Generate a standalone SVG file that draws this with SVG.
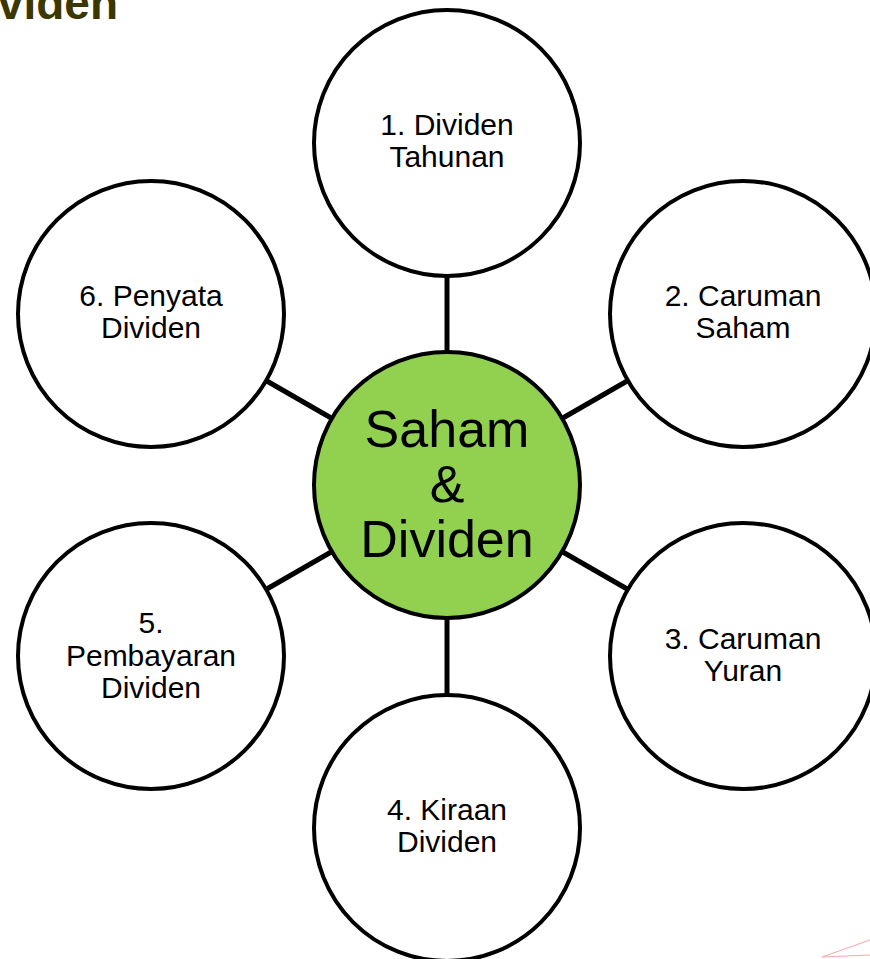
<svg xmlns="http://www.w3.org/2000/svg" width="870" height="959" viewBox="0 0 870 959">
<style>
.c{fill:#ffffff;stroke:#000000;stroke-width:4}
.m{fill:#92d050;stroke:#000000;stroke-width:4}
.t{font-family:"Liberation Sans",Arial,sans-serif;font-size:30px;fill:#000000;text-anchor:middle}
.tm{font-family:"Liberation Sans",Arial,sans-serif;font-size:52px;fill:#000000;text-anchor:middle}
.ln{stroke:#000000;stroke-width:5}
</style>
<rect width="870" height="959" fill="#ffffff"/>
<text x="118" y="19" text-anchor="end" font-family="Liberation Sans, Arial, sans-serif" font-weight="bold" font-size="46" fill="#3a3800">viden</text>
<g id="connectors">
<line class="ln" x1="447" y1="277" x2="447" y2="352"/>
<line class="ln" x1="447" y1="618" x2="447" y2="695"/>
<line class="ln" x1="562" y1="418.5" x2="628" y2="380.5"/>
<line class="ln" x1="562" y1="551.5" x2="628" y2="589.5"/>
<line class="ln" x1="332" y1="418.5" x2="266" y2="380.5"/>
<line class="ln" x1="332" y1="551.5" x2="266" y2="589.5"/>
</g>
<g id="node1"><circle class="c" cx="447" cy="143" r="133"/><text class="t" x="447" y="135">1. Dividen</text><text class="t" x="447" y="167">Tahunan</text></g>
<g id="node2"><circle class="c" cx="743" cy="314" r="133"/><text class="t" x="743" y="306">2. Caruman</text><text class="t" x="743" y="338">Saham</text></g>
<g id="node3"><circle class="c" cx="743" cy="656" r="133"/><text class="t" x="743" y="649">3. Caruman</text><text class="t" x="743" y="681">Yuran</text></g>
<g id="node4"><circle class="c" cx="447" cy="828" r="133"/><text class="t" x="447" y="820">4. Kiraan</text><text class="t" x="447" y="852">Dividen</text></g>
<g id="node5"><circle class="c" cx="151" cy="656" r="133"/><text class="t" x="151" y="633">5.</text><text class="t" x="151" y="666">Pembayaran</text><text class="t" x="151" y="698">Dividen</text></g>
<g id="node6"><circle class="c" cx="151" cy="314" r="133"/><text class="t" x="151" y="306">6. Penyata</text><text class="t" x="151" y="338">Dividen</text></g>
<g id="center"><circle class="m" cx="447" cy="485" r="133"/><text class="tm" x="447" y="447">Saham</text><text class="tm" x="447" y="502">&amp;</text><text class="tm" x="447" y="557">Dividen</text></g>
<line x1="822" y1="957" x2="870" y2="940" stroke="#f2a8a8" stroke-width="1"/>
<line x1="822" y1="957" x2="870" y2="955" stroke="#f2a8a8" stroke-width="1"/>
</svg>
